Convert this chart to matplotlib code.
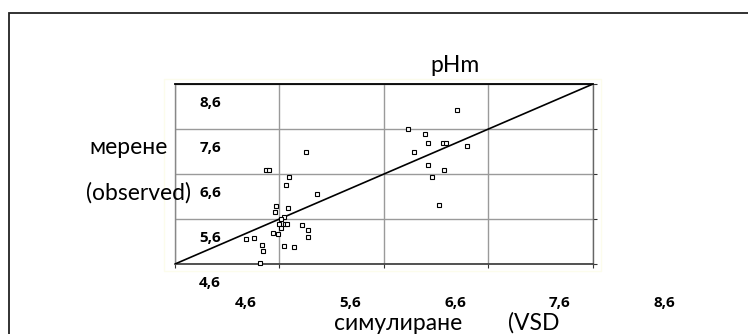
import matplotlib
matplotlib.use("Agg")
import matplotlib.pyplot as plt
import matplotlib.patches as mpatches
from matplotlib.transforms import ScaledTranslation, blended_transform_factory

plt.rcParams['font.family'] = ['Lato', 'Noto Sans', 'DejaVu Sans']

# simulated (x) and observed (y) pH values
sim = [7.30, 6.83, 6.99, 7.02, 7.16, 7.19, 7.39, 6.89, 7.02, 7.17, 7.06, 7.13,
       5.85, 5.47, 5.50, 5.69, 5.66, 5.96, 5.57, 5.56, 5.68, 5.64, 5.61, 5.60,
       5.65, 5.67, 5.61, 5.82, 5.87, 5.54, 5.59, 5.87, 5.28, 5.36, 5.43, 5.64,
       5.74, 5.44, 5.41]
obs = [8.02, 7.61, 7.50, 7.30, 7.30, 7.30, 7.23, 7.10, 6.81, 6.70, 6.53, 5.92,
       7.10, 6.70, 6.70, 6.54, 6.36, 6.16, 5.90, 5.75, 5.85, 5.65, 5.59, 5.50,
       5.49, 5.50, 5.40, 5.46, 5.35, 5.30, 5.27, 5.21, 5.15, 5.17, 5.03, 5.00,
       4.98, 4.88, 4.62]
line_x = [4.6, 8.6]
line_y = [4.6, 8.6]
ticks = [4.6, 5.6, 6.6, 7.6, 8.6]
tick_labels = ["4,6", "5,6", "6,6", "7,6", "8,6"]

W, H, DPI = 748, 334, 100
fig = plt.figure(figsize=(W / DPI, H / DPI), dpi=DPI)
fig.patch.set_facecolor('white')

# outer frame (only top and left visible)
frame = mpatches.Rectangle((8.5 / W, -0.2), 1.5, 1.2 - 12.5 / H, transform=fig.transFigure,
                           fill=False, edgecolor='#222222', lw=1.3)
fig.patches.append(frame)

# faint plot-area border
bg = mpatches.Rectangle((164 / W, 1 - 271 / H), (601 - 164) / W, (271 - 79) / H,
                        transform=fig.transFigure, fill=False, edgecolor='#fcfcec', lw=1.0)
fig.patches.append(bg)

ax = fig.add_axes([175 / W, 1 - 264 / H, (593 - 175) / W, (264 - 84) / H])
ax.set_xlim(ticks[0], ticks[-1])
ax.set_ylim(ticks[0], ticks[-1])
ax.set_xticks(ticks)
ax.set_yticks(ticks)
ax.set_xticklabels([])
ax.set_yticklabels([])
ax.tick_params(axis='x', direction='out', length=3, color='#333333', width=0.8)
ax.tick_params(axis='y', left=False, right=True, direction='out', length=3, color='#333333', width=0.8)
ax.grid(True, color='#9a9a9a', lw=1.0)
ax.set_axisbelow(True)
ax.spines['top'].set_color('black')
ax.spines['top'].set_linewidth(1.3)
ax.spines['bottom'].set_color('#444444')
ax.spines['bottom'].set_linewidth(1.3)
ax.spines['left'].set_color('#888888')
ax.spines['right'].set_color('#666666')
ax.spines['left'].set_linewidth(1.0)
ax.spines['right'].set_linewidth(1.0)

ax.plot(line_x, line_y, color='black', lw=1.2, zorder=3)
ax.plot(sim, obs, linestyle='none', marker='s', markersize=2.8, markerfacecolor='white',
        markeredgecolor='black', markeredgewidth=0.8, zorder=4, clip_on=False)

# shifted tick labels (as in the original)
tick_font = dict(fontsize=11, fontweight='bold', family=['Open Sans', 'DejaVu Sans'])
xt = blended_transform_factory(ax.transData, ax.transAxes)
for v, lab in zip(ticks, tick_labels):
    ax.text(v, 0, lab, transform=xt + ScaledTranslation(71 / DPI, -39 / DPI, fig.dpi_scale_trans),
            ha='center', va='center', clip_on=False, **tick_font)
yt = blended_transform_factory(ax.transAxes, ax.transData)
for v, lab in zip(ticks, tick_labels):
    ax.text(0, v, lab, transform=yt + ScaledTranslation(35 / DPI, -19 / DPI, fig.dpi_scale_trans),
            ha='center', va='center', clip_on=False, **tick_font)

def px(x, y):
    return x / W, 1 - y / H

fig.text(*px(455, 65), "pHm", ha='center', va='center', fontsize=16.5)
fig.text(*px(168, 148), "мерене", ha='right', va='center', fontsize=16.5)
fig.text(*px(191, 193), "(observed)", ha='right', va='center', fontsize=16.5)
fig.text(*px(334, 323), "симулиране", ha='left', va='center', fontsize=16.5)
fig.text(*px(508, 323), "(VSD", ha='left', va='center', fontsize=16.5)

fig.savefig("out.png", dpi=DPI)
